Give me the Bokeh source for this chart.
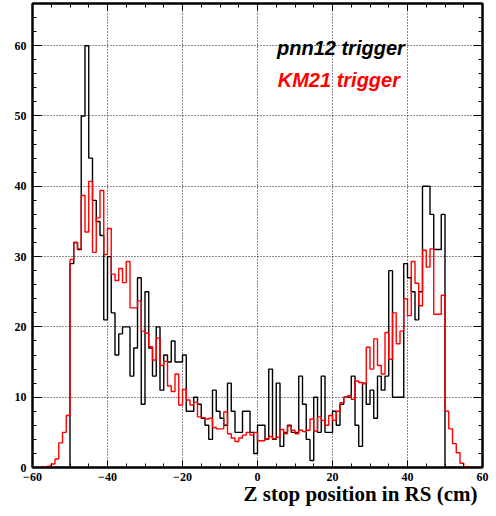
from bokeh.plotting import figure
from bokeh.models import Range1d, LinearAxis, Label, Title, FixedTicker, CustomJSTickFormatter
from bokeh.embed import file_html
from bokeh.resources import INLINE

# bin edges (cm): 120 bins of 1 cm from -60 to 60
bin_edges = list(range(-60, 61))

# pnn12 trigger counts (black), bins -60 .. 59
pnn12_counts = [
    0, 0, 0, 0, 0, 0, 0, 0, 0, 0,                 # -60 .. -51
    29, 32, 31, 50, 60, 44, 38, 35, 33, 21,       # -50 .. -41
    30, 22, 16, 19, 20, 20, 13, 17, 27, 9,        # -40 .. -31
    25, 17, 13, 20, 11, 16, 15, 18, 15, 15,       # -30 .. -21
    16, 8, 8, 10, 9, 7, 6, 4, 11, 8,              # -20 .. -11
    7, 6, 12, 8, 5, 5, 8, 8, 5, 2,                # -10 .. -1
    6, 6, 4, 14, 4, 12, 3, 5, 6, 5,               # 0 .. 9
    5, 13, 9, 4, 1, 10, 5, 13, 5, 5,              # 10 .. 19
    8, 6, 9, 10, 10, 13, 6, 3, 12, 9,             # 20 .. 29
    11, 7, 13, 11, 13, 28, 10, 10, 10, 29,        # 30 .. 39
    27, 25, 21, 25, 40, 40, 36, 31, 31, 36,       # 40 .. 49
    0, 0, 0, 0, 0, 0, 0, 0, 0, 0,                 # 50 .. 59
]

# KM21 trigger (red), bins -60 .. 59
km21_counts = [
    0, 0, 0, 0.1, 0.2, 0.5, 1.2, 3.5, 5.0, 7.4,                  # -60 .. -51
    29.6, 32.0, 31.1, 38.7, 33.5, 40.7, 30.6, 35.5, 39.4, 30.3,  # -50 .. -41
    34.0, 27.5, 26.6, 28.3, 26.3, 29.3, 22.7, 22.7, 23.7, 19.4,  # -40 .. -31
    19.1, 17.2, 15.3, 18.4, 14.5, 15.1, 11.6, 10.8, 13.3, 8.9,   # -30 .. -21
    11.1, 9.6, 8.9, 9.3, 7.2, 7.1, 6.9, 7.0, 5.7, 5.5,           # -20 .. -11
    5.5, 7.9, 4.8, 4.2, 3.7, 4.2, 4.6, 5.0, 4.6, 5.0,            # -10 .. -1
    3.8, 3.8, 4.1, 4.4, 4.1, 4.3, 5.4, 4.8, 5.9, 5.3,            # 0 .. 9
    4.8, 5.3, 5.1, 5.3, 6.9, 5.2, 7.2, 6.7, 6.0, 7.4,            # 10 .. 19
    6.7, 8.0, 9.2, 10.0, 10.2, 9.7, 12.3, 12.1, 11.9, 17.1,      # 20 .. 29
    14.0, 18.3, 14.5, 13.3, 19.2, 15.4, 22.0, 17.6, 19.4, 24.0,  # 30 .. 39
    21.6, 29.3, 26.2, 23.0, 30.9, 28.5, 31.1, 21.8, 21.8, 24.5,  # 40 .. 49
    8.0, 5.5, 3.4, 2.1, 0.6, 0.1, 0.1, 0, 0, 0,                  # 50 .. 59
]

x_ticks = [-60, -40, -20, 0, 20, 40, 60]
y_ticks = [0, 10, 20, 30, 40, 50, 60]
x_minor = [v for v in range(-60, 61, 5)]
y_minor = [v for v in range(0, 67, 2)]

series_labels = ["pnn12 trigger", "KM21 trigger"]
x_title = "Z stop position in RS (cm)"

p = figure(width=492, height=510, output_backend="svg", toolbar_location=None,
           x_range=Range1d(-60, 60), y_range=Range1d(0, 66),
           min_border_left=32, min_border_right=10, min_border_top=3, min_border_bottom=43)
p.background_fill_color = "white"
p.border_fill_color = "white"
p.outline_line_color = "black"
p.outline_line_width = 2

TICK_FONT = "Liberation Serif"

for ax in (p.xaxis[0], p.yaxis[0]):
    ax.axis_line_color = "black"
    ax.axis_line_width = 2
    ax.major_tick_out = 0
    ax.minor_tick_out = 0
    ax.major_label_text_font = TICK_FONT
    ax.major_label_text_font_style = "bold"
    ax.major_label_text_font_size = "12px"
    ax.major_label_text_color = "black"
    ax.major_tick_line_color = "black"
    ax.minor_tick_line_color = "black"

p.xaxis[0].ticker = FixedTicker(ticks=x_ticks, minor_ticks=x_minor)
p.yaxis[0].ticker = FixedTicker(ticks=y_ticks, minor_ticks=y_minor)
p.xaxis[0].major_tick_in = 7
p.xaxis[0].minor_tick_in = 4
p.yaxis[0].major_tick_in = 9
p.yaxis[0].minor_tick_in = 4
p.xaxis[0].major_label_standoff = 5
p.yaxis[0].major_label_standoff = 6

# mirrored tick axes on top and right (no labels)
empty = CustomJSTickFormatter(code="return ''")
top = LinearAxis(ticker=FixedTicker(ticks=x_ticks, minor_ticks=x_minor), formatter=empty,
                 major_tick_in=7, minor_tick_in=4, major_tick_out=0, minor_tick_out=0,
                 major_label_text_font_size="0px", major_label_standoff=0,
                 axis_line_color="black", axis_line_width=2)
right = LinearAxis(ticker=FixedTicker(ticks=y_ticks, minor_ticks=y_minor), formatter=empty,
                   major_tick_in=9, minor_tick_in=4, major_tick_out=0, minor_tick_out=0,
                   major_label_text_font_size="0px", major_label_standoff=0,
                   axis_line_color="black", axis_line_width=2)
p.add_layout(top, "above")
p.add_layout(right, "right")

p.xgrid[0].ticker = FixedTicker(ticks=x_ticks)
p.ygrid[0].ticker = FixedTicker(ticks=y_ticks)
for g in (p.xgrid[0], p.ygrid[0]):
    g.grid_line_color = "black"
    g.grid_line_width = 1
    g.grid_line_dash = "1 2"
    g.grid_line_alpha = 0.9

xs = bin_edges
p.step(xs, pnn12_counts + [pnn12_counts[-1]], mode="after", line_color="black", line_width=1.4)
p.step(xs, km21_counts + [km21_counts[-1]], mode="after", line_color="#ff0000", line_width=1.4)

p.add_layout(Label(x=5.2, y=59.7, text=series_labels[0], text_font="Liberation Sans",
                   text_font_style="bold italic", text_font_size="20px", text_color="black",
                   text_baseline="alphabetic"))
p.add_layout(Label(x=5.4, y=55.1, text=series_labels[1], text_font="Liberation Sans",
                   text_font_style="bold italic", text_font_size="20px", text_color="#ff0000",
                   text_baseline="alphabetic"))

# x-axis title, right-aligned under the axis (ROOT style)
p.add_layout(Title(text=x_title, align="right", text_font=TICK_FONT, text_font_style="bold",
                   text_font_size="21px", text_color="black", text_line_height=1.0,
                   standoff=-7, offset=5), "below")

open("out.html", "w").write(file_html(p, INLINE))
